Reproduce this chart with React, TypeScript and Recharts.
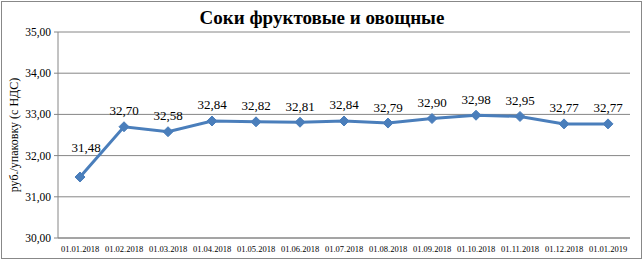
import React from "react";
import { LineChart, Line, XAxis, YAxis, CartesianGrid, LabelList } from "recharts";

const dates = ["01.01.2018","01.02.2018","01.03.2018","01.04.2018","01.05.2018","01.06.2018","01.07.2018","01.08.2018","01.09.2018","01.10.2018","01.11.2018","01.12.2018","01.01.2019"];
const prices = [31.48, 32.70, 32.58, 32.84, 32.82, 32.81, 32.84, 32.79, 32.90, 32.98, 32.95, 32.77, 32.77];
const yTicks = [30, 31, 32, 33, 34, 35];
const title = "Соки фруктовые и овощные";
const yTitle = "руб./упаковку (с НДС)";

const data = dates.map((d, i) => ({ date: d, price: prices[i] }));
const fmt = (v: number) => v.toFixed(2).replace(".", ",");
const FONT = "'Liberation Serif', 'Times New Roman', serif";
const COLOR = "#4A7EBB";

const Diamond = (props: any) => {
  const { cx, cy } = props;
  if (cx == null || cy == null) return null;
  const r = 5;
  return <path d={`M${cx},${cy - r}L${cx + r},${cy}L${cx},${cy + r}L${cx - r},${cy}Z`} fill={COLOR} stroke={COLOR} strokeWidth={1} />;
};

const ValueLabel = (props: any) => {
  const { x, y, value, index } = props;
  const dx = index === 0 ? 6 : 0;
  const dy = index === 0 ? -30 : -16;
  return (
    <text x={x + dx} y={y + dy} textAnchor="middle" dominantBaseline="central" fontFamily={FONT} fontSize={13} fill="#000">
      {fmt(value)}
    </text>
  );
};

export default function App() {
  return (
    <div style={{ position: "absolute", left: 0, top: 0, width: 644, height: 262, background: "#fff" }}>
      <div style={{ position: "absolute", left: 1, top: 1, width: 641, height: 258, border: "1px solid #888", boxSizing: "border-box" }} />
      <svg style={{ position: "absolute", left: 0, top: 0 }} width={644} height={262}>
        <text x={322} y={17} textAnchor="middle" dominantBaseline="central" fontFamily={FONT} fontSize={19} fontWeight="bold" fill="#000">{title}</text>
        <text x={14} y={135} textAnchor="middle" dominantBaseline="central" fontFamily={FONT} fontSize={12} fill="#000" transform="rotate(-90 14 135)">{yTitle}</text>
      </svg>
      <div style={{ position: "absolute", left: 0, top: 0 }}>
        <LineChart width={644} height={262} data={data} margin={{ top: 32, right: 14, bottom: 4, left: 0 }}>
          <CartesianGrid vertical={false} stroke="#868686" strokeWidth={1} />
          <XAxis dataKey="date" height={20} tickLine={false} axisLine={{ stroke: "#868686" }} interval={0}
            padding={{ left: 22, right: 22 }}
            tick={{ fontFamily: FONT, fontSize: 8.5, fill: "#000" }} tickMargin={2} />
          <YAxis width={58} domain={[30, 35]} ticks={yTicks} tickFormatter={fmt} axisLine={{ stroke: "#868686" }}
            tickLine={{ stroke: "#868686" }} tickSize={4} tickMargin={3}
            tick={{ fontFamily: FONT, fontSize: 11.5, fill: "#000" }} />
          <Line dataKey="price" stroke={COLOR} strokeWidth={3} dot={<Diamond />} activeDot={false} isAnimationActive={false}>
            <LabelList dataKey="price" content={<ValueLabel />} />
          </Line>
        </LineChart>
      </div>
    </div>
  );
}
